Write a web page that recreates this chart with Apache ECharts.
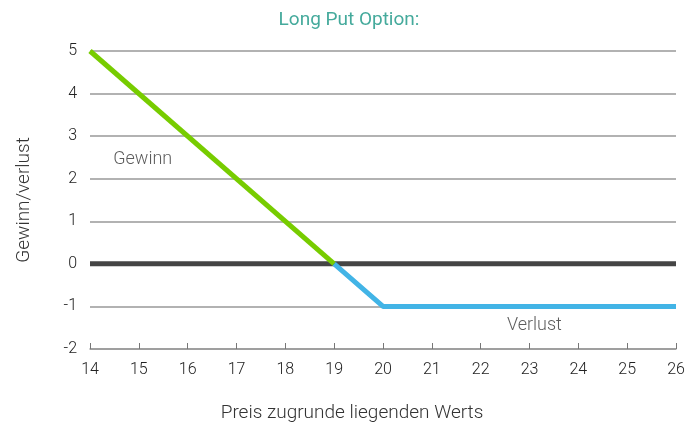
<!DOCTYPE html>
<html>
<head>
    <meta charset="utf-8">
    <title>Long Put Option</title>
    <script src="https://cdn.jsdelivr.net/npm/echarts@6/dist/echarts.min.js"></script>
    <style>
        html, body { margin: 0; padding: 0; background: #fff; }
        #main { width: 698px; height: 425px; }
    </style>
</head>
<body>
<div id="main"></div>
<script type="text/javascript">
    // Daten
    var gewinnLinie = [[14, 5], [19, 0]];
    var verlustLinie = [[19, 0], [20, -1], [26, -1]];
    var nullLinie = [[14, 0], [26, 0]];
    var beschriftungen = [
        {name: 'Gewinn', value: [15.08, 2.45]},
        {name: 'Verlust', value: [23.1, -1.45]}
    ];

    var myChart = echarts.init(document.getElementById('main'));
    var font = 'Roboto';

    var option = {
        backgroundColor: '#fff',
        animation: false,
        title: {
            text: 'Long Put Option:',
            left: 'center',
            top: 6,
            textStyle: {
                fontFamily: font,
                fontSize: 19,
                fontWeight: 'normal',
                color: '#45aa9c'
            }
        },
        grid: {left: 90, right: 22, top: 51, bottom: 76, outerBoundsMode: 'none', containLabel: false},
        xAxis: {
            type: 'value',
            min: 14,
            max: 26,
            interval: 1,
            name: 'Preis zugrunde liegenden Werts',
            nameLocation: 'middle',
            nameGap: 55,
            nameTextStyle: {fontFamily: font, fontSize: 19, color: '#333', fontWeight: 300, padding: [0, 62, 0, 0]},
            axisLine: {onZero: false, lineStyle: {color: '#999', width: 1.5}},
            axisTick: {inside: true, length: 6, lineStyle: {color: '#777'}},
            axisLabel: {fontFamily: font, fontSize: 16, color: '#222', margin: 13, fontWeight: 300},
            splitLine: {show: false}
        },
        yAxis: {
            type: 'value',
            min: -2,
            max: 5,
            interval: 1,
            name: 'Gewinn/verlust',
            nameLocation: 'middle',
            nameGap: 56,
            nameTextStyle: {fontFamily: font, fontSize: 19, color: '#333', fontWeight: 300},
            axisLine: {show: false},
            axisTick: {show: false},
            axisLabel: {fontFamily: font, fontSize: 16, color: '#222', margin: 13, fontWeight: 300},
            splitLine: {lineStyle: {color: '#999', width: 1.5}}
        },
        series: [
            {
                type: 'line',
                data: nullLinie,
                symbol: 'none',
                lineStyle: {color: '#454545', width: 5},
                z: 2
            },
            {
                type: 'line',
                data: gewinnLinie,
                symbol: 'none',
                lineStyle: {color: '#77cc00', width: 5, cap: 'butt'},
                z: 3
            },
            {
                type: 'line',
                data: verlustLinie,
                symbol: 'none',
                lineStyle: {color: '#42b4e6', width: 5, cap: 'butt'},
                z: 4
            },
            {
                type: 'scatter',
                data: beschriftungen,
                symbolSize: 0,
                label: {
                    show: true,
                    position: 'inside',
                    formatter: '{b}',
                    fontFamily: font,
                    fontSize: 18,
                    fontWeight: 300,
                    color: '#333'
                },
                z: 5
            }
        ]
    };

    myChart.setOption(option);
</script>
</body>
</html>
